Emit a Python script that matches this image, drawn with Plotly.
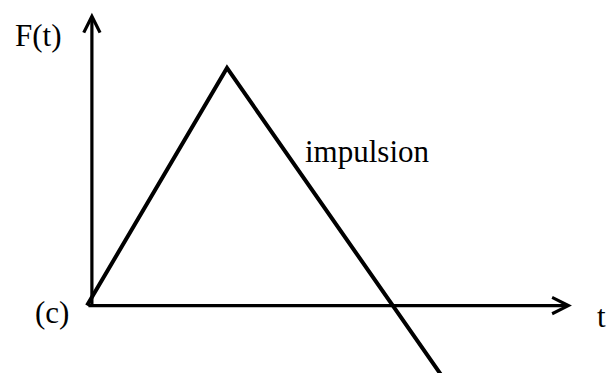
import plotly.graph_objects as go

# Data (abstract units: peak at t=1, F=1)
t_values = [0.0, 1.0, 2.539]
F_values = [0.0, 1.0, -0.30]

axis_t_end = 3.464   # horizontal arrow tip
axis_F_end = 1.232   # vertical arrow tip
axis_t_start = 0.0
vert_axis_t = 0.035

labels = {"F(t)": (38, 36), "(c)": (52, 312), "t": (601, 316), "impulsion": (367, 151)}

W, H = 615, 373
FONT = "Liberation Serif, Times New Roman, serif"

fig = go.Figure()
fig.add_trace(go.Scatter(x=t_values, y=F_values, mode="lines",
                         line=dict(color="black", width=4), hoverinfo="skip",
                         showlegend=False))

# Axes with arrowheads
fig.add_annotation(x=axis_t_end, y=0, ax=axis_t_start, ay=0, xref="x", yref="y",
                   axref="x", ayref="y", showarrow=True, arrowhead=5, arrowsize=1,
                   arrowwidth=3.2, arrowcolor="black", text="")
fig.add_annotation(x=vert_axis_t, y=axis_F_end, ax=vert_axis_t, ay=0, xref="x", yref="y",
                   axref="x", ayref="y", showarrow=True, arrowhead=5, arrowsize=1,
                   arrowwidth=3.2, arrowcolor="black", text="")

for txt, (px, py) in labels.items():
    fig.add_annotation(x=px / W, y=1 - py / H, xref="paper", yref="paper",
                       text=txt, showarrow=False, xanchor="center", yanchor="middle",
                       font=dict(family=FONT, size=31, color="black"))

fig.update_layout(
    width=W, height=H, margin=dict(l=0, r=0, t=0, b=0),
    paper_bgcolor="white", plot_bgcolor="white",
    xaxis=dict(range=[-87 / 140, (W - 87) / 140], visible=False, fixedrange=True),
    yaxis=dict(range=[-0.284, 1.286], visible=False, fixedrange=True),
)
fig.write_html("out.html", config={"displayModeBar": False},
               post_script="document.body.style.margin='0';document.body.style.overflow='hidden';")
